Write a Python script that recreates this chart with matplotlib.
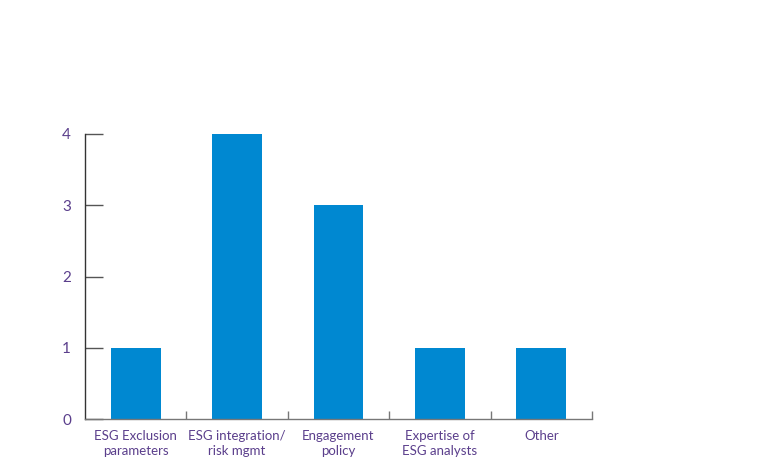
import matplotlib
matplotlib.use("Agg")
import matplotlib.pyplot as plt
import numpy as np

# Datos del gráfico
categorias = ["ESG Exclusion\nparameters", "ESG integration/\nrisk mgmt", "Engagement\npolicy",
              "Expertise of\nESG analysts", "Other"]
valores = [1, 4, 3, 1, 1]
ticks_y = [0, 1, 2, 3, 4]

azul = "#0088d1"
morado = "#5b3f8c"

plt.rcParams["font.family"] = ["Lato", "DejaVu Sans"]

fig = plt.figure(figsize=(7.68, 4.71), dpi=100)
ax = fig.add_axes([0.1107, 0.1104, 0.66, 0.6051])

x = np.arange(len(categorias))
ax.bar(x, valores, width=0.49, color=azul)

ax.set_xlim(-0.5, len(categorias) - 0.5)
ax.set_ylim(0, 4)

# Ejes
for lado in ["top", "right"]:
    ax.spines[lado].set_visible(False)
ax.spines["left"].set_color("#333333")
ax.spines["bottom"].set_color("#777777")
ax.spines["left"].set_linewidth(1.0)
ax.spines["bottom"].set_linewidth(1.0)

# Ticks del eje y hacia dentro
ax.set_yticks(ticks_y)
ax.set_yticklabels([str(t) for t in ticks_y])
ax.tick_params(axis="y", direction="in", length=13, width=1.0, color="#555555",
               labelcolor=morado, labelsize=11, pad=10)

# Ticks del eje x: etiquetas en el centro, marcas en los límites
ax.set_xticks(x)
ax.set_xticklabels(categorias)
ax.set_xticks(np.arange(0.5, len(categorias), 1.0), minor=True)
ax.tick_params(axis="x", which="major", length=0, labelcolor=morado, labelsize=9.5, pad=8)
ax.tick_params(axis="x", which="minor", direction="in", length=6, width=1.0, color="#777777")
for etiqueta in ax.get_xticklabels():
    etiqueta.set_linespacing(1.3)

fig.savefig("out.png", dpi=100)
